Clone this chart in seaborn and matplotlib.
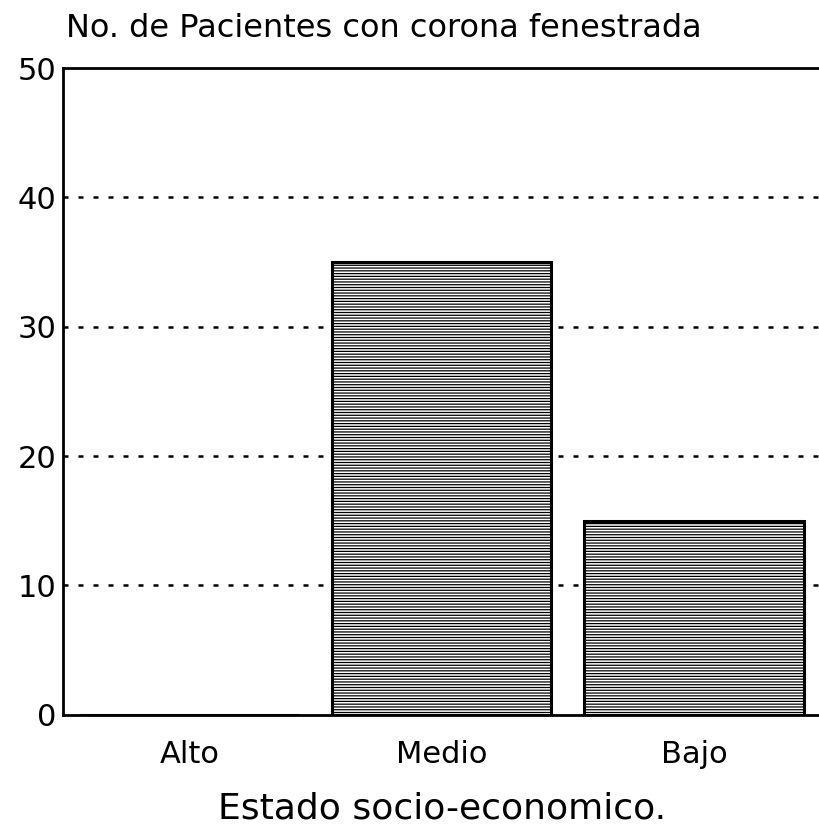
import pandas as pd
import matplotlib.pyplot as plt
import seaborn as sns

categorias = ['Alto', 'Medio', 'Bajo']
pacientes = [0, 35, 15]
y_ticks = [0, 10, 20, 30, 40, 50]

df = pd.DataFrame({'Estado': categorias, 'Pacientes': pacientes})

sns.set_style("white")
plt.rcParams['font.family'] = ['DejaVu Sans']
plt.rcParams['hatch.linewidth'] = 0.9
plt.rcParams['text.color'] = 'black'
plt.rcParams['xtick.color'] = 'black'
plt.rcParams['ytick.color'] = 'black'
plt.rcParams['axes.labelcolor'] = 'black'

fig = plt.figure(figsize=(8.2, 8.4), dpi=100)
ax = fig.add_axes([0.077, 0.149, 0.923, 0.77])

sns.barplot(x='Estado', y='Pacientes', data=df, ax=ax, color='white',
            edgecolor='black', linewidth=2.2, width=0.87, zorder=3)
for bar in ax.patches:
    bar.set_hatch('------')

for t in y_ticks[1:-1]:
    ax.axhline(t, color='black', linestyle=(0, (2, 4)), linewidth=1.8, zorder=1)

ax.set_ylim(0, 50)
ax.set_xlim(-0.5, 2.5)
ax.set_yticks(y_ticks)
ax.tick_params(axis='both', length=0, labelsize=22, pad=5)
ax.tick_params(axis='x', labelsize=22, pad=18)

for side in ['left', 'bottom', 'top']:
    ax.spines[side].set_linewidth(2)
    ax.spines[side].set_color('black')
ax.spines['right'].set_visible(False)

ax.set_ylabel('')
ax.set_xlabel('Estado socio-economico.', fontsize=26, labelpad=16)
fig.text(0.08, 0.966, 'No. de Pacientes con corona fenestrada', fontsize=23, va='center')

plt.savefig('out.png', dpi=100)
